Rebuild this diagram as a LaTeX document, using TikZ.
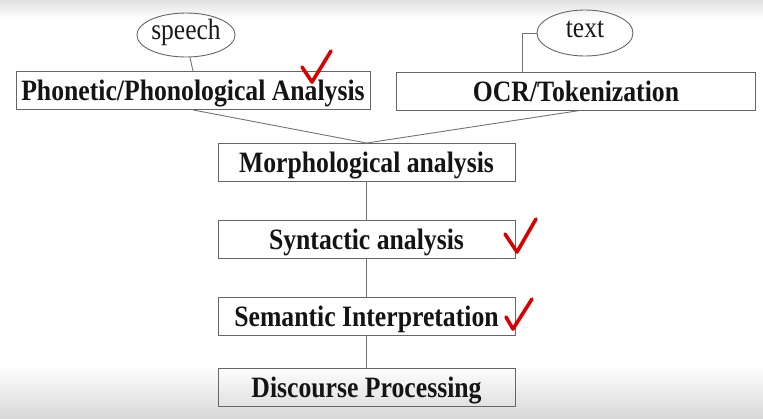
\documentclass[tikz,border=0pt]{standalone}
\usepackage{fontspec}
\usepackage{graphicx}
\setmainfont{Liberation Serif}
\usetikzlibrary{shapes.geometric}
\newcommand\tallt[1]{\scalebox{1}[1.15]{#1}}
\tikzset{
  stagebox/.style={draw=black!60, line width=0.9pt, rectangle, minimum height=38pt, inner sep=0pt,
    text height=20pt, text depth=0pt,
    font=\fontsize{25.7}{30}\selectfont\bfseries, text=black!92},
  srcell/.style={draw=black!60, line width=0.9pt, ellipse, inner sep=0pt,
    text height=9pt, text depth=0pt,
    font=\fontsize{25.5}{30}\selectfont, text=black!90},
  link/.style={draw=black!55, line width=0.9pt},
  tick/.style={draw=red!85!black, line width=3.6pt, line cap=round, line join=round}
}
\begin{document}
\begin{tikzpicture}[x=1pt,y=-1pt]
\useasboundingbox (0,0) rectangle (763,418);
\shade[top color=black!12, bottom color=white] (0,0) rectangle (763,18);
\shade[top color=white, bottom color=black!15] (0,365) rectangle (763,418);

\node[stagebox, minimum width=354pt] (phon) at (193,90.5) {\tallt{Phonetic/Phonological Analysis}};
\node[stagebox, minimum width=359pt] (ocr) at (576,91) {\tallt{OCR/Tokenization}};
\node[stagebox, minimum width=297pt] (morph) at (366.5,162.5) {\tallt{Morphological analysis}};
\node[stagebox, minimum width=297pt] (syn) at (366.5,239) {\tallt{Syntactic analysis}};
\node[stagebox, minimum width=297pt] (sem) at (366.5,316.5) {\tallt{Semantic Interpretation}};
\node[stagebox, minimum width=297pt] (disc) at (366.5,387) {\tallt{Discourse Processing}};

\node[srcell, minimum width=98pt, minimum height=44pt] (speech) at (186,35) {\tallt{speech}};
\node[srcell, minimum width=96pt, minimum height=46pt] (txt) at (585,33) {\tallt{text}};

\coordinate (tcorner) at (522,72);

\draw[link] (speech.-80) -- (phon.north);
\draw[link] (txt.west) -| (tcorner);
\draw[link] (phon.south) -- (morph.north);
\draw[link] ([xshift=4pt]ocr.south) -- (morph.north);
\draw[link] (morph.south) -- (syn.north);
\draw[link] (syn.south) -- (sem.north);
\draw[link] (sem.south) -- (disc.north);

% red check marks
\draw[tick] (302,67) -- (312,82) -- (331,51);
\draw[tick] (505,234) -- (517,252) -- (536,219);
\draw[tick] (506,317) -- (513,329) -- (532,299);
\end{tikzpicture}
\end{document}
